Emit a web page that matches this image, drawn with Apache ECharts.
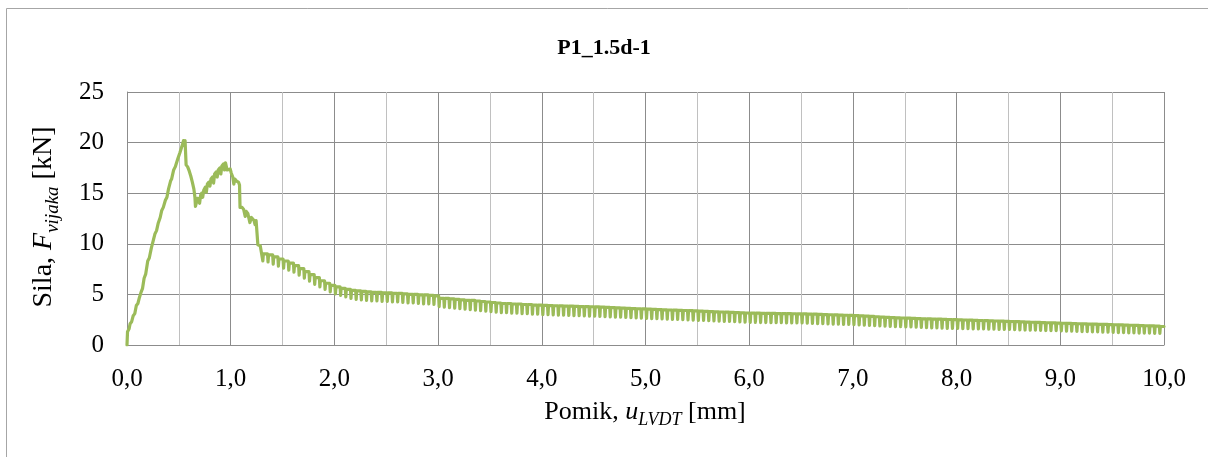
<!DOCTYPE html>
<html>
<head>
<meta charset="utf-8">
<script src="https://cdn.jsdelivr.net/npm/echarts@6/dist/echarts.min.js"></script>
<style>
html,body{margin:0;padding:0;background:#fff;}
#chart{width:1208px;height:457px;}
</style>
</head>
<body>
<div id="chart"></div>
<script>
// Displacement u [mm] vs force F [kN]
const chartTitle = 'P1_1.5d-1';
const xTickLabels = ['0,0','1,0','2,0','3,0','4,0','5,0','6,0','7,0','8,0','9,0','10,0'];
const yTickLabels = ['0','5','10','15','20','25'];

const rise = [[0,0],[0.005,1.3],[0.02,1.6],[0.03,2.1],[0.045,2.3],[0.06,2.9],[0.075,3.1],[0.09,3.9],[0.105,4.1],[0.12,4.7],[0.135,5.2],[0.15,5.6],[0.165,6.6],[0.18,7.0],[0.2,8.3],[0.215,8.6],[0.235,9.6],[0.25,10.2],[0.27,11.0],[0.285,11.3],[0.3,12.0],[0.32,12.6],[0.335,13.3],[0.35,13.6],[0.37,14.3],[0.385,14.6],[0.4,15.4],[0.42,16.2],[0.43,16.4],[0.45,17.3],[0.465,17.6],[0.48,17.5],[0.49,18.4],[0.51,19.0],[0.525,19.5],[0.535,19.8],[0.545,20.2],[0.55,20.0],[0.56,20.2]];

const secondPeak = [[0.565,20.1],[0.57,17.8],[0.585,17.6],[0.6,17.2],[0.615,16.7],[0.63,16.1],[0.645,15.4],[0.655,14.6],[0.66,13.7],[0.67,13.8],[0.68,14.5],[0.69,14.3],[0.7,14.0],[0.71,14.8],[0.72,15.0],[0.73,14.6],[0.74,15.3],[0.755,15.6],[0.765,15.1],[0.775,15.9],[0.79,16.1],[0.8,15.7],[0.81,16.4],[0.825,16.6],[0.835,16.0],[0.845,16.9],[0.86,17.1],[0.87,16.6],[0.88,17.3],[0.895,17.5],[0.905,16.9],[0.915,17.7],[0.93,17.9],[0.94,17.3],[0.95,18.0],[0.955,18.1],[0.965,17.3],[0.98,17.2],[0.995,17.4],[1.005,17.0],[1.02,16.6],[1.03,15.9],[1.04,16.4],[1.055,16.2],[1.075,16.1],[1.085,15.8],[1.09,13.6],[1.11,13.6],[1.125,13.4],[1.14,12.7],[1.15,13.2],[1.165,13.0],[1.175,12.9],[1.185,12.1],[1.2,12.6],[1.215,12.5],[1.225,12.3],[1.235,11.9],[1.245,12.3],[1.255,12.2],[1.262,9.9],[1.285,9.8],[1.3,9.7]];

const tail1 = [[1.31,8.3],[1.315,9.0],[1.355,9.0],[1.36,8.2],[1.365,8.9],[1.405,8.9],[1.41,8.0],[1.415,8.7],[1.455,8.7],[1.46,7.8],[1.465,8.5],[1.505,8.5],[1.51,7.6],[1.515,8.3],[1.555,8.3],[1.56,7.4],[1.565,8.1],[1.605,8.1],[1.61,7.2],[1.615,7.85],[1.655,7.85],[1.66,6.9],[1.665,7.55],[1.705,7.55],[1.71,6.6],[1.715,7.25],[1.755,7.25],[1.76,6.3],[1.765,6.95],[1.805,6.95],[1.81,6.0],[1.815,6.65],[1.855,6.65],[1.86,5.75],[1.865,6.35],[1.905,6.35],[1.91,5.5],[1.915,6.1],[1.955,6.1],[1.96,5.25],[1.965,5.9],[2.005,5.9]];

const tail2 = [[2.01,5.05],[2.015,5.75],[2.055,5.75],[2.06,4.9],[2.065,5.6],[2.105,5.6],[2.11,4.75],[2.115,5.5],[2.155,5.5],[2.16,4.6],[2.165,5.4],[2.205,5.4],[2.21,4.5],[2.215,5.35],[2.255,5.35],[2.26,4.45],[2.265,5.3],[2.305,5.3],[2.31,4.4],[2.315,5.25],[2.355,5.25],[2.36,4.35],[2.365,5.2],[2.405,5.2],[2.41,4.35],[2.415,5.2],[2.455,5.2],[2.46,4.3],[2.465,5.15],[2.505,5.15],[2.51,4.3],[2.515,5.15],[2.555,5.15],[2.56,4.25],[2.565,5.1],[2.605,5.1],[2.61,4.25],[2.615,5.1],[2.655,5.1],[2.66,4.2],[2.665,5.05],[2.705,5.05],[2.71,4.15],[2.715,5.0],[2.755,5.0],[2.76,4.15],[2.765,5.0],[2.805,5.0],[2.81,4.1],[2.815,4.95],[2.855,4.95],[2.86,4.05],[2.865,4.95],[2.905,4.95],[2.91,4.05],[2.915,4.9],[2.955,4.9],[2.96,4.0],[2.965,4.85],[3.005,4.85]];

const tail3 = [[3.01,3.8],[3.015,4.6],[3.055,4.6],[3.06,3.75],[3.065,4.6],[3.105,4.6],[3.11,3.7],[3.115,4.55],[3.155,4.55],[3.16,3.65],[3.165,4.5],[3.205,4.5],[3.21,3.6],[3.215,4.45],[3.255,4.45],[3.26,3.55],[3.265,4.4],[3.305,4.4],[3.31,3.5],[3.315,4.4],[3.355,4.4],[3.36,3.45],[3.365,4.35],[3.405,4.35],[3.41,3.4],[3.415,4.3],[3.455,4.3],[3.46,3.35],[3.465,4.25],[3.505,4.25],[3.51,3.3],[3.515,4.2],[3.555,4.2],[3.56,3.25],[3.565,4.15],[3.605,4.15],[3.61,3.2],[3.615,4.1],[3.655,4.1],[3.66,3.2],[3.665,4.1],[3.705,4.1],[3.71,3.15],[3.715,4.05],[3.755,4.05],[3.76,3.15],[3.765,4.05],[3.805,4.05],[3.81,3.1],[3.815,4.0],[3.855,4.0],[3.86,3.1],[3.865,4.0],[3.905,4.0],[3.91,3.05],[3.915,3.95],[3.955,3.95],[3.96,3.05],[3.965,3.95],[4.005,3.95]];

const tail4 = [[4.01,3.0],[4.015,3.92],[4.055,3.92],[4.06,3.0],[4.065,3.9],[4.105,3.9],[4.11,2.98],[4.115,3.88],[4.155,3.88],[4.16,2.96],[4.165,3.86],[4.205,3.86],[4.21,2.94],[4.215,3.85],[4.255,3.85],[4.26,2.92],[4.265,3.84],[4.305,3.84],[4.31,2.9],[4.315,3.82],[4.355,3.82],[4.36,2.9],[4.365,3.8],[4.405,3.8],[4.41,2.88],[4.415,3.8],[4.455,3.8],[4.46,2.86],[4.465,3.78],[4.505,3.78],[4.51,2.84],[4.515,3.76],[4.555,3.76],[4.56,2.82],[4.565,3.74],[4.605,3.74],[4.61,2.8],[4.615,3.72],[4.655,3.72],[4.66,2.78],[4.665,3.7],[4.705,3.7],[4.71,2.76],[4.715,3.67],[4.755,3.67],[4.76,2.74],[4.765,3.65],[4.805,3.65],[4.81,2.72],[4.815,3.62],[4.855,3.62],[4.86,2.7],[4.865,3.6],[4.905,3.6],[4.91,2.68],[4.915,3.58],[4.955,3.58],[4.96,2.65],[4.965,3.56],[5.005,3.56]];

const tail5 = [[5.01,2.63],[5.015,3.54],[5.055,3.54],[5.06,2.61],[5.065,3.52],[5.105,3.52],[5.11,2.6],[5.115,3.5],[5.155,3.5],[5.16,2.58],[5.165,3.48],[5.205,3.48],[5.21,2.56],[5.215,3.46],[5.255,3.46],[5.26,2.54],[5.265,3.45],[5.305,3.45],[5.31,2.52],[5.315,3.43],[5.355,3.43],[5.36,2.5],[5.365,3.41],[5.405,3.41],[5.41,2.48],[5.415,3.39],[5.455,3.39],[5.46,2.46],[5.465,3.37],[5.505,3.37],[5.51,2.44],[5.515,3.35],[5.555,3.35],[5.56,2.42],[5.565,3.33],[5.605,3.33],[5.61,2.4],[5.615,3.3],[5.655,3.3],[5.66,2.38],[5.665,3.28],[5.705,3.28],[5.71,2.36],[5.715,3.26],[5.755,3.26],[5.76,2.34],[5.765,3.24],[5.805,3.24],[5.81,2.32],[5.815,3.22],[5.855,3.22],[5.86,2.3],[5.865,3.2],[5.905,3.2],[5.91,2.28],[5.915,3.18],[5.955,3.18],[5.96,2.26],[5.965,3.16],[6.005,3.16]];

const tail6 = [[6.01,2.24],[6.015,3.15],[6.055,3.15],[6.06,2.23],[6.065,3.14],[6.105,3.14],[6.11,2.22],[6.115,3.13],[6.155,3.13],[6.16,2.22],[6.165,3.12],[6.205,3.12],[6.21,2.21],[6.215,3.12],[6.255,3.12],[6.26,2.2],[6.265,3.11],[6.305,3.11],[6.31,2.2],[6.315,3.1],[6.355,3.1],[6.36,2.19],[6.365,3.1],[6.405,3.1],[6.41,2.19],[6.415,3.09],[6.455,3.09],[6.46,2.18],[6.465,3.08],[6.505,3.08],[6.51,2.18],[6.515,3.08],[6.555,3.08],[6.56,2.16],[6.565,3.06],[6.605,3.06],[6.61,2.14],[6.615,3.05],[6.655,3.05],[6.66,2.12],[6.665,3.03],[6.705,3.03],[6.71,2.1],[6.715,3.01],[6.755,3.01],[6.76,2.08],[6.765,2.99],[6.805,2.99],[6.81,2.07],[6.815,2.97],[6.855,2.97],[6.86,2.05],[6.865,2.95],[6.905,2.95],[6.91,2.04],[6.915,2.94],[6.955,2.94],[6.96,2.03],[6.965,2.92],[7.005,2.92]];

const tail7 = [[7.01,2.02],[7.015,2.91],[7.055,2.91],[7.06,1.99],[7.065,2.88],[7.105,2.88],[7.11,1.96],[7.115,2.85],[7.155,2.85],[7.16,1.93],[7.165,2.82],[7.205,2.82],[7.21,1.9],[7.215,2.79],[7.255,2.79],[7.26,1.88],[7.265,2.76],[7.305,2.76],[7.31,1.86],[7.315,2.73],[7.355,2.73],[7.36,1.84],[7.365,2.71],[7.405,2.71],[7.41,1.82],[7.415,2.69],[7.455,2.69],[7.46,1.81],[7.465,2.67],[7.505,2.67],[7.51,1.8],[7.515,2.65],[7.555,2.65],[7.56,1.78],[7.565,2.63],[7.605,2.63],[7.61,1.76],[7.615,2.61],[7.655,2.61],[7.66,1.74],[7.665,2.59],[7.705,2.59],[7.71,1.72],[7.715,2.58],[7.755,2.58],[7.76,1.7],[7.765,2.56],[7.805,2.56],[7.81,1.68],[7.815,2.55],[7.855,2.55],[7.86,1.67],[7.865,2.53],[7.905,2.53],[7.91,1.65],[7.915,2.52],[7.955,2.52],[7.96,1.64],[7.965,2.5],[8.005,2.5]];

const tail8 = [[8.01,1.63],[8.015,2.49],[8.055,2.49],[8.06,1.62],[8.065,2.47],[8.105,2.47],[8.11,1.61],[8.115,2.45],[8.155,2.45],[8.16,1.6],[8.165,2.44],[8.205,2.44],[8.21,1.59],[8.215,2.42],[8.255,2.42],[8.26,1.58],[8.265,2.4],[8.305,2.4],[8.31,1.57],[8.315,2.38],[8.355,2.38],[8.36,1.56],[8.365,2.37],[8.405,2.37],[8.41,1.55],[8.415,2.35],[8.455,2.35],[8.46,1.54],[8.465,2.33],[8.505,2.33],[8.51,1.53],[8.515,2.32],[8.555,2.32],[8.56,1.51],[8.565,2.3],[8.605,2.3],[8.61,1.5],[8.615,2.28],[8.655,2.28],[8.66,1.48],[8.665,2.27],[8.705,2.27],[8.71,1.47],[8.715,2.25],[8.755,2.25],[8.76,1.46],[8.765,2.23],[8.805,2.23],[8.81,1.45],[8.815,2.21],[8.855,2.21],[8.86,1.43],[8.865,2.2],[8.905,2.2],[8.91,1.42],[8.915,2.18],[8.955,2.18],[8.96,1.41],[8.965,2.16],[9.005,2.16]];

const tail9 = [[9.01,1.4],[9.015,2.15],[9.055,2.15],[9.06,1.38],[9.065,2.13],[9.105,2.13],[9.11,1.36],[9.115,2.12],[9.155,2.12],[9.16,1.35],[9.165,2.1],[9.205,2.1],[9.21,1.33],[9.215,2.09],[9.255,2.09],[9.26,1.32],[9.265,2.07],[9.305,2.07],[9.31,1.3],[9.315,2.06],[9.355,2.06],[9.36,1.29],[9.365,2.04],[9.405,2.04],[9.41,1.27],[9.415,2.03],[9.455,2.03],[9.46,1.26],[9.465,2.01],[9.505,2.01],[9.51,1.25],[9.515,2.0],[9.555,2.0],[9.56,1.23],[9.565,1.98],[9.605,1.98],[9.61,1.22],[9.615,1.97],[9.655,1.97],[9.66,1.2],[9.665,1.95],[9.705,1.95],[9.71,1.19],[9.715,1.93],[9.755,1.93],[9.76,1.18],[9.765,1.92],[9.805,1.92],[9.81,1.17],[9.815,1.9],[9.855,1.9],[9.86,1.16],[9.865,1.88],[9.905,1.88],[9.91,1.15],[9.915,1.86],[9.955,1.86],[9.96,1.14],[9.965,1.84],[10.0,1.83]];

const forceCurve = [].concat(rise, secondPeak, tail1, tail2, tail3, tail4, tail5, tail6, tail7, tail8, tail9);

const serif = '"Liberation Serif", "Times New Roman", serif';
const chart = echarts.init(document.getElementById('chart'), null, {renderer: 'canvas'});
chart.setOption({
  animation: false,
  backgroundColor: '#ffffff',
  title: {
    text: chartTitle,
    left: 'center',
    top: 32,
    textStyle: {fontFamily: serif, fontWeight: 'bold', fontSize: 22, color: '#000'}
  },
  grid: {left: 127, right: 44, top: 92, bottom: 112, containLabel: false},
  xAxis: {
    type: 'value', min: 0, max: 10, interval: 1,
    axisLine: {show: true, lineStyle: {color: '#8C8C8C', width: 1}},
    axisTick: {show: false},
    minorTick: {show: false, splitNumber: 2},
    minorSplitLine: {show: true, lineStyle: {color: '#C0C0C0', width: 1}},
    splitLine: {show: true, lineStyle: {color: '#8C8C8C', width: 1}},
    axisLabel: {
      fontFamily: serif, fontSize: 25, color: '#000', margin: 22,
      formatter: function (v) { return xTickLabels[Math.round(v)]; }
    }
  },
  yAxis: {
    type: 'value', min: 0, max: 25, interval: 5,
    axisLine: {show: true, lineStyle: {color: '#8C8C8C', width: 1}},
    axisTick: {show: false},
    splitLine: {show: true, lineStyle: {color: '#8C8C8C', width: 1}},
    axisLabel: {
      fontFamily: serif, fontSize: 25, color: '#000', margin: 23,
      formatter: function (v) { return yTickLabels[Math.round(v / 5)]; }
    }
  },
  graphic: [
    {type: 'rect', silent: true, shape: {x: 6.5, y: 8.5, width: 1250, height: 500},
     style: {fill: 'none', stroke: '#A6A6A6', lineWidth: 1}, z: 100},
    {type: 'text', x: 645, y: 412, silent: true,
     style: {
       text: '{n|Pomik, }{i|u}{s|LVDT}{n| [mm]}',
       align: 'center', verticalAlign: 'middle',
       rich: {
         n: {fontFamily: serif, fontSize: 26, fill: '#000', lineHeight: 26, verticalAlign: 'middle'},
         i: {fontFamily: serif, fontSize: 26, fontStyle: 'italic', fill: '#000', lineHeight: 26, verticalAlign: 'middle'},
         s: {fontFamily: serif, fontSize: 18, fontStyle: 'italic', fill: '#000', lineHeight: 35, verticalAlign: 'bottom'}
       }
     }},
    {type: 'text', x: 44, y: 217, rotation: Math.PI / 2, silent: true,
     style: {
       text: '{n|Sila, }{i|F}{s|vijaka}{n| [kN]}',
       align: 'center', verticalAlign: 'middle',
       rich: {
         n: {fontFamily: serif, fontSize: 28, fill: '#000', lineHeight: 28, verticalAlign: 'middle'},
         i: {fontFamily: serif, fontSize: 28, fontStyle: 'italic', fill: '#000', lineHeight: 28, verticalAlign: 'middle'},
         s: {fontFamily: serif, fontSize: 19, fontStyle: 'italic', fill: '#000', lineHeight: 37, verticalAlign: 'bottom'}
       }
     }}
  ],
  series: [{
    type: 'line',
    data: forceCurve,
    showSymbol: false,
    symbol: 'none',
    sampling: null,
    lineStyle: {color: '#9BBB59', width: 3.2, join: 'round', cap: 'round'},
    z: 3
  }]
});
</script>
</body>
</html>
